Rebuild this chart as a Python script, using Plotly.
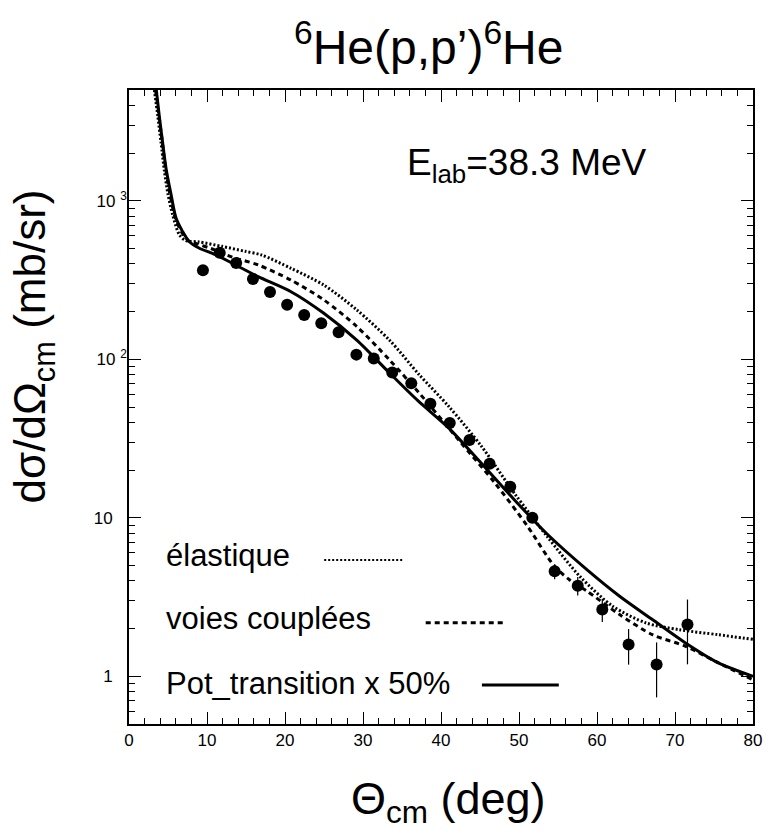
import plotly.graph_objects as go

# measured cross sections (deg, mb/sr)
theta_data = [9.48, 11.63, 13.74, 15.89, 18.08, 20.27, 22.46, 24.65, 26.87, 29.15,
              31.38, 33.75, 36.19, 38.64, 41.12, 43.65, 46.23, 48.88, 51.71, 54.57,
              57.53, 60.68, 64.05, 67.64, 71.60]
xsec_data = [364, 470, 405, 321, 266, 221, 190, 169, 148, 107,
             101, 82.5, 70.7, 52.4, 39.6, 31.0, 21.9, 15.7, 10.0, 4.60,
             3.73, 2.64, 1.585, 1.186, 2.12]
xsec_err = [15, 18, 16, 12, 10, 8, 7, 6, 5, 4,
            4, 3, 3, 2, 1.6, 1.2, 0.9, 0.7, 0.5, 0.5,
            0.5, 0.44, 0.4, 0.45, 0.93]

# elastique (dotted)
theta_el = [3.25, 3.7, 4.1, 4.55, 5.0, 5.6, 6.45, 7.3, 8.97, 11.9, 14.87, 17.0,
            20.77, 24.98, 29.2, 33.4, 37.2, 41.0, 45.2, 49.4, 53.6, 57.8,
            62.0, 66.3, 70.5, 75.5, 80.0]
xsec_el = [5000, 3400, 2350, 1531, 1100, 816, 611, 560, 550, 516, 480, 455,
           375, 294, 205, 132, 80, 50.4, 28.2, 14.3, 7.64, 4.27,
           2.77, 2.17, 1.97, 1.83, 1.71]

# voies couplees (dashed)
theta_cc = [3.4, 3.8, 4.2, 4.65, 5.25, 5.9, 6.7, 7.6, 8.56, 10.5, 13.3, 16.56,
            20.77, 24.98, 29.2, 33.4, 37.4, 42.25, 46.9, 51.1, 54.47, 56.5, 58.7,
            62.9, 67.1, 71.3, 75.5, 80.0]
xsec_cc = [5000, 3600, 2500, 1650, 1100, 790, 640, 560, 538, 500, 440, 394,
           316, 237, 161, 99, 59.7, 31.0, 16.6, 8.83, 5.0, 4.05, 3.45,
           2.45, 1.83, 1.55, 1.22, 0.95]

# Pot_transition x 50% (solid)
theta_pt = [3.5, 3.92, 4.33, 4.76, 5.40, 6.03, 6.86, 7.71, 8.97, 11.08, 13.61, 16.56,
            20.77, 24.98, 29.2, 33.4, 37.0, 41.0, 45.2, 49.4, 53.6, 58.7,
            62.9, 67.1, 71.3, 75.5, 80.0]
xsec_pt = [5000, 3300, 2290, 1590, 1091, 778, 641, 554, 504, 457, 395, 332,
           267, 195, 132, 82, 55, 36.8, 22.0, 13.0, 7.9, 4.71,
           3.2, 2.28, 1.63, 1.22, 1.0]

legend_labels = ["élastique", "voies couplées", "Pot_transition x 50%"]

W, H = 770, 835
L, R, T, B = 129, 762, 90, 724


def px(x):
    return (x - L) / (R - L)


def py(y):
    return (B - y) / (B - T)


FONT = "Liberation Sans, Arial, sans-serif"

fig = go.Figure()

curves = [
    (theta_el, xsec_el, "2px,2px"),
    (theta_cc, xsec_cc, "5px,4px"),
    (theta_pt, xsec_pt, "solid"),
]
for xs, ys, dash in curves:
    fig.add_trace(go.Scatter(x=xs, y=ys, mode="lines",
                             line=dict(color="black", width=3, dash=dash,
                                       shape="spline", smoothing=0.8),
                             cliponaxis=True, hoverinfo="skip"))

fig.add_trace(go.Scatter(x=theta_data, y=xsec_data, mode="markers",
                         marker=dict(size=12, color="black"),
                         error_y=dict(type="data", array=xsec_err, color="black",
                                      thickness=1.2, width=0)))

major = [1, 10, 100, 1000]
major_txt = ["1" + "\u00a0" * 3, "10" + "\u00a0" * 3,
             "10\u00a0<sup>2</sup>", "10\u00a0<sup>3</sup>"]
minor_vals = [m * 10 ** k for k in range(-1, 4) for m in range(2, 10)
              if 0.5 <= m * 10 ** k <= 5000]

fig.update_layout(
    width=W, height=H,
    margin=dict(l=L, r=W - R, t=T, b=H - B),
    paper_bgcolor="white", plot_bgcolor="white",
    showlegend=False,
    font=dict(family=FONT, color="black"),
    xaxis=dict(range=[0, 80], tick0=0, dtick=10, ticks="inside", ticklen=12,
               tickcolor="black", tickwidth=1, showgrid=False, zeroline=False,
               showline=True, linecolor="black", linewidth=1.5, mirror="ticks",
               tickfont=dict(size=17), ticklabelstandoff=0,
               minor=dict(dtick=2, ticks="inside", ticklen=6, tickcolor="black",
                          showgrid=False)),
    yaxis=dict(type="log", range=[-0.301, 3.699], tickmode="array",
               tickvals=major, ticktext=major_txt, ticks="inside", ticklen=12,
               tickcolor="black", tickwidth=1, showgrid=False, zeroline=False,
               showline=True, linecolor="black", linewidth=1.5, mirror="ticks",
               tickfont=dict(size=17), ticklabelstandoff=-3,
               minor=dict(tickmode="array", tickvals=minor_vals, ticks="inside",
                          ticklen=6, tickcolor="black", showgrid=False)),
)

ann = [
    dict(text="<sup>6</sup>He(p,p’)<sup>6</sup>He", x=px(433), y=py(44), size=48,
         xanchor="center", yanchor="middle"),
    dict(text="E<sub>lab</sub>=38.3 MeV", x=px(409), y=py(165), size=37,
         xanchor="left", yanchor="middle"),
    dict(text="Θ<sub>cm</sub> (deg)", x=px(453), y=py(801), size=45,
         xanchor="center", yanchor="middle"),
    dict(text=legend_labels[0], x=px(165), y=py(555), size=31,
         xanchor="left", yanchor="middle"),
    dict(text=legend_labels[1], x=px(165), y=py(618), size=31,
         xanchor="left", yanchor="middle"),
    dict(text=legend_labels[2], x=px(165), y=py(683), size=31,
         xanchor="left", yanchor="middle"),
]
for a in ann:
    fig.add_annotation(text=a["text"], xref="paper", yref="paper", x=a["x"], y=a["y"],
                       xanchor=a["xanchor"], yanchor=a["yanchor"], showarrow=False,
                       font=dict(size=a["size"], family=FONT, color="black"))

fig.add_annotation(text="dσ/dΩ<sub>cm</sub> (mb/sr)", xref="paper", yref="paper",
                   x=px(32), y=py(346), textangle=-90, showarrow=False,
                   xanchor="center", yanchor="middle",
                   font=dict(size=44, family=FONT, color="black"))

# hand-drawn legend samples
samples = [(327, 407, 560, "2px,2px", 2), (430, 510, 622.7, "5px,4px", 3),
           (487, 565, 685, "solid", 3)]
for x0, x1, y0, dash, w in samples:
    fig.add_shape(type="line", xref="paper", yref="paper",
                  x0=px(x0), x1=px(x1), y0=py(y0), y1=py(y0),
                  line=dict(color="black", width=w, dash=dash))

fig.write_html("out.html", config={"displayModeBar": False},
               post_script="document.body.style.margin='0';")
